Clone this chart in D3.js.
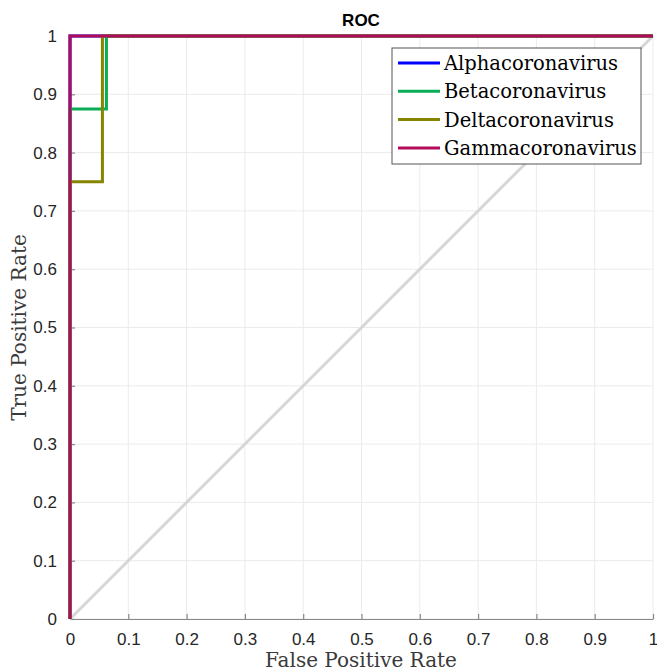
<!DOCTYPE html>
<html>
<head>
<meta charset="utf-8">
<script src="https://cdn.jsdelivr.net/npm/d3@7"></script>
<style>
  body { margin: 0; background: #fff; }
  svg { display: block; }
</style>
</head>
<body>
<div id="chart"></div>
<script>
var ticks = [0, 0.1, 0.2, 0.3, 0.4, 0.5, 0.6, 0.7, 0.8, 0.9, 1];
var classes = ["Alphacoronavirus", "Betacoronavirus", "Deltacoronavirus", "Gammacoronavirus"];
var colors = ["#0000ff", "#0aad55", "#858500", "#b00c5a"];

// ROC points per class [fpr, tpr]
var alphaRoc = [[0, 0], [0, 1], [1, 1]];
var betaRoc = [[0, 0], [0, 0.875], [0.0625, 0.875], [0.0625, 1], [1, 1]];
var deltaRoc = [[0, 0], [0, 0.75], [0.0556, 0.75], [0.0556, 1], [1, 1]];
var gammaRoc = [[0, 0], [0, 1], [1, 1]];
var chance = [[0, 0], [1, 1]];

var series = [alphaRoc, betaRoc, deltaRoc, gammaRoc];

var margin = {top: 36, right: 4, bottom: 52, left: 70},
    width = 657 - margin.left - margin.right,
    height = 671 - margin.top - margin.bottom;

var svg = d3.select("#chart").append("svg")
    .attr("width", 657)
    .attr("height", 671);
var g = svg.append("g").attr("transform", "translate(" + margin.left + "," + margin.top + ")");

var x = d3.scaleLinear().domain([0, 1]).range([0, 583]),
    y = d3.scaleLinear().domain([0, 1]).range([583, 0]);

// grid
g.selectAll(".gx").data(ticks).enter().append("line")
  .attr("x1", function(d) { return x(d); }).attr("x2", function(d) { return x(d); })
  .attr("y1", 0).attr("y2", 583)
  .attr("stroke", "#ebebeb").attr("stroke-width", 1);
g.selectAll(".gy").data(ticks).enter().append("line")
  .attr("y1", function(d) { return y(d); }).attr("y2", function(d) { return y(d); })
  .attr("x1", 0).attr("x2", 583)
  .attr("stroke", "#ebebeb").attr("stroke-width", 1);

var fmt = function(d) { return d === 0 || d === 1 ? d3.format("d")(d) : d3.format(".1f")(d); };

var xAxis = g.append("g")
  .attr("transform", "translate(0,583)")
  .call(d3.axisBottom(x).tickValues(ticks).tickFormat(fmt).tickSizeInner(-5).tickSizeOuter(0).tickPadding(14));
var yAxis = g.append("g")
  .call(d3.axisLeft(y).tickValues(ticks).tickFormat(fmt).tickSizeInner(-5).tickSizeOuter(0).tickPadding(13));

[xAxis, yAxis].forEach(function(a) {
  a.select(".domain").attr("stroke", "#888").attr("stroke-width", 1.2);
  a.selectAll(".tick line").attr("stroke", "#888").attr("stroke-width", 1.2);
  a.selectAll("text").attr("fill", "#262626")
    .style("font-family", "'Liberation Sans', Arial, sans-serif").style("font-size", "17px");
});

var line = d3.line()
  .x(function(d) { return x(d[0]); })
  .y(function(d) { return y(d[1]); });

g.append("path")
  .attr("d", line(chance))
  .attr("fill", "none").attr("stroke", "#d6d6d6").attr("stroke-width", 3);

g.selectAll(".roc").data(series).enter().append("path")
  .attr("class", "roc")
  .attr("d", function(d) { return line(d); })
  .attr("fill", "none")
  .attr("stroke", function(d, i) { return colors[i]; })
  .attr("stroke-width", 3);

// title and labels
svg.append("text")
  .attr("x", 361).attr("y", 26)
  .attr("text-anchor", "middle")
  .style("font-family", "'Liberation Sans', Arial, sans-serif")
  .style("font-weight", "bold").style("font-size", "17px")
  .attr("fill", "#000")
  .text("ROC");

svg.append("text")
  .attr("x", 361).attr("y", 667)
  .attr("text-anchor", "middle")
  .style("font-family", "'DejaVu Serif', 'Liberation Serif', serif")
  .style("font-size", "20px")
  .attr("fill", "#3a3a3a")
  .text("False Positive Rate");

svg.append("text")
  .attr("transform", "translate(26," + (36 + 583 / 2) + ") rotate(-90)")
  .attr("text-anchor", "middle")
  .style("font-family", "'DejaVu Serif', 'Liberation Serif', serif")
  .style("font-size", "20px")
  .attr("fill", "#3a3a3a")
  .text("True Positive Rate");

// legend
var legend = svg.append("g").attr("transform", "translate(392,48)");
legend.append("rect")
  .attr("width", 249).attr("height", 116)
  .attr("fill", "#fff").attr("stroke", "#555").attr("stroke-width", 1);
var items = legend.selectAll(".item").data(classes).enter().append("g")
  .attr("transform", function(d, i) { return "translate(0," + (15 + i * 28.3) + ")"; });
items.append("line")
  .attr("x1", 6).attr("x2", 48)
  .attr("stroke", function(d, i) { return colors[i]; })
  .attr("stroke-width", 3);
items.append("text")
  .attr("x", 52).attr("y", 7)
  .style("font-family", "'DejaVu Serif', 'Liberation Serif', serif")
  .style("font-size", "19.5px")
  .attr("fill", "#000")
  .text(function(d) { return d; });
</script>
</body>
</html>
